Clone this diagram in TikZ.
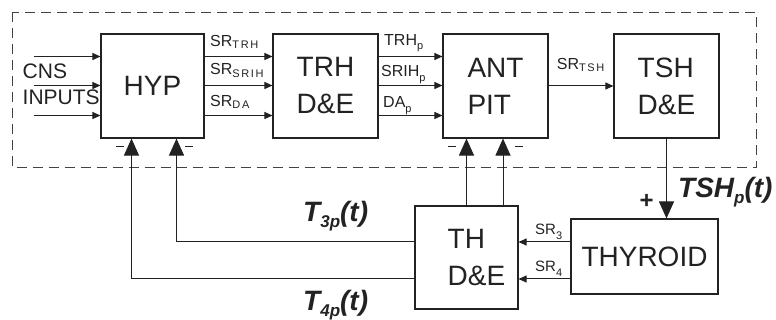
\documentclass[tikz,border=0pt]{standalone}
\usepackage{fontspec}
\setmainfont{Liberation Sans}
\usetikzlibrary{arrows.meta}
\definecolor{ink}{HTML}{222222}

% subscripts
\newcommand{\lsub}[1]{\raisebox{-2.5pt}{\fontsize{11}{12}\selectfont\addfontfeatures{LetterSpace=15}#1}}
\newcommand{\psub}[1]{\raisebox{-4.5pt}{\fontsize{11}{12}\selectfont #1}}
\newcommand{\bsub}[1]{\raisebox{-6pt}{\fontsize{17}{18}\selectfont #1}}

\begin{document}
\begin{tikzpicture}[x=1pt, y=-1pt, color=ink,
    block/.style={draw, line width=1.1pt, minimum width=105pt, minimum height=104pt,
      inner sep=0pt, align=left, font=\fontsize{28}{37}\selectfont},
    sig/.style={line width=1pt, -{Triangle[length=8pt,width=7pt]}},
    fb/.style={line width=1pt, -{Triangle[length=17pt,width=15pt]}},
    lbl/.style={anchor=base west, inner sep=0pt, font=\fontsize{16}{18}\selectfont},
    big/.style={anchor=base west, inner sep=0pt, font=\fontsize{28}{30}\selectfont\bfseries\itshape},
    minus/.style={line width=1.6pt}]
  \useasboundingbox (0,0) rectangle (776,320);

  % Dashed frame
  \draw[ink!85, line width=0.9pt, dash pattern=on 10pt off 6pt] (12,12) rectangle (756,167.5);

  % Blocks
  \node[block, minimum width=103pt] (hyp) at (152.5,86) {HYP};
  \node[block] (trh) at (325.5,86) {TRH\\D\&E};
  \node[block] (ant) at (495.5,86) {ANT\\PIT};
  \node[block] (tsh) at (666.5,86) {TSH\\D\&E};
  \node[block, minimum width=103pt, minimum height=103pt,
    label={[name=thtext, xshift=10pt, align=left, font=\fontsize{28}{37}\selectfont]center:TH\\D\&E}]
    (th) at (466.5,257.5) {};
  \node[block, minimum width=147pt, minimum height=75pt] (thy) at (644.5,256.5) {THYROID};

  % Signal rows
  \foreach \y [count=\i] in {56.5,85.5,115.5} {
    \coordinate (cns\i) at (34,\y);
    \draw[sig] (cns\i) -- (cns\i -| hyp.west);
    \draw[sig] (cns\i -| hyp.east) -- (cns\i -| trh.west);
    \draw[sig] (cns\i -| trh.east) -- (cns\i -| ant.west);
  }
  \draw[sig] (ant.east) -- (tsh.west);

  % Inputs text
  \node[anchor=base west, inner sep=0pt, font=\fontsize{21}{22}\selectfont] (cns) at (22.5,78.3) {CNS};
  \node[anchor=base west, inner sep=0pt, font=\fontsize{21}{22}\selectfont] (inputs) at (22.5,105) {INPUTS};

  % Signal labels
  \node[lbl] (srtrh) at (210,46.3) {SR\lsub{TRH}};
  \node[lbl] (srsrih) at (210,75) {SR\lsub{SRIH}};
  \node[lbl] (srda) at (210,106.3) {SR\lsub{DA}};
  \node[lbl] (trhp) at (384,45.3) {TRH\psub{p}};
  \node[lbl] (srihp) at (381,77) {SRIH\psub{p}};
  \node[lbl] (dap) at (383,108) {DA\psub{p}};
  \node[lbl] (srtsh) at (556.7,69.5) {SR\lsub{TSH}};

  % Feedback paths
  \coordinate (r3) at (0,242);
  \coordinate (r4) at (0,279);
  \draw[fb] (th.west |- r3) -| ([xshift=24pt]hyp.south);
  \draw[fb] (th.west |- r4) -| ([xshift=-21pt]hyp.south);
  \draw[fb] (th.north) -- (th.north |- ant.south);
  \draw[fb] ([xshift=36.5pt]th.north) -- ([xshift=36.5pt]th.north |- ant.south);
  \draw[fb] (tsh.south) -- (tsh.south |- thy.north);
  \draw[sig] (thy.west |- r3) -- (th.east |- r3);
  \draw[sig] (thy.west |- r4) -- (th.east |- r4);

  \node[lbl, font=\fontsize{15}{16}\selectfont] (sr3) at (535,235) {SR\psub{3}};
  \node[lbl, font=\fontsize{15}{16}\selectfont] (sr4) at (535,272) {SR\psub{4}};

  % Signs
  \draw[minus] ([xshift=-36.5pt, yshift=-8pt]hyp.south) -- ++(8,0);
  \draw[minus] ([xshift=32.5pt, yshift=-8pt]hyp.south) -- ++(8,0);
  \draw[minus] ([xshift=-47.5pt, yshift=-8pt]ant.south) -- ++(8,0);
  \draw[minus] ([xshift=19.5pt, yshift=-8pt]ant.south) -- ++(8,0);
  \node[inner sep=0pt, font=\fontsize{24}{24}\selectfont\bfseries] (plus) at (646.5,201.5) {+};

  % Hormone labels
  \node[big] (tshp) at (678,198) {TSH\bsub{p}(t)};
  \node[big] (t3p) at (303,222) {T\bsub{3p}(t)};
  \node[big] (t4p) at (303,310) {T\bsub{4p}(t)};
\end{tikzpicture}
\end{document}
